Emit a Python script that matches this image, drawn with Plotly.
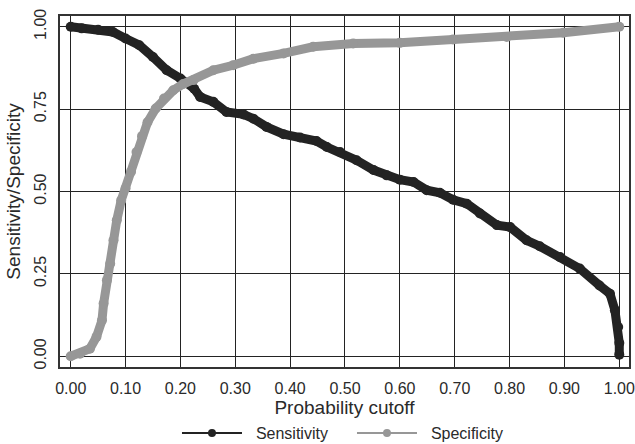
import plotly.graph_objects as go

# cutoff / sensitivity
sens_cutoff = [0.000, 0.020, 0.050, 0.077, 0.100, 0.125, 0.150, 0.175, 0.200, 0.225,
               0.236, 0.260, 0.284, 0.315, 0.333, 0.357, 0.388, 0.418, 0.448, 0.467,
               0.491, 0.521, 0.552, 0.576, 0.600, 0.625, 0.649, 0.673, 0.697, 0.722,
               0.746, 0.777, 0.801, 0.831, 0.855, 0.892, 0.928, 0.964, 0.983, 0.992,
               0.998, 1.000, 1.000]
sensitivity = [1.000, 0.995, 0.991, 0.984, 0.964, 0.944, 0.908, 0.868, 0.843, 0.812,
               0.787, 0.772, 0.741, 0.734, 0.721, 0.696, 0.674, 0.664, 0.653, 0.635,
               0.620, 0.595, 0.565, 0.549, 0.536, 0.529, 0.504, 0.496, 0.475, 0.463,
               0.433, 0.398, 0.392, 0.352, 0.334, 0.301, 0.266, 0.215, 0.190, 0.140,
               0.089, 0.040, 0.005]

# cutoff / specificity
spec_cutoff = [0.000, 0.017, 0.035, 0.047, 0.057, 0.060, 0.066, 0.072, 0.078, 0.084,
               0.092, 0.100, 0.110, 0.120, 0.130, 0.140, 0.155, 0.170, 0.187, 0.205,
               0.224, 0.260, 0.296, 0.333, 0.388, 0.442, 0.515, 0.600, 0.697, 0.795,
               0.898, 1.000]
specificity = [0.000, 0.008, 0.023, 0.059, 0.109, 0.160, 0.231, 0.281, 0.352, 0.413,
               0.473, 0.510, 0.560, 0.620, 0.668, 0.710, 0.752, 0.782, 0.807, 0.826,
               0.838, 0.868, 0.883, 0.903, 0.919, 0.939, 0.949, 0.951, 0.961, 0.969,
               0.982, 1.000]

x_ticks = [0.0, 0.1, 0.2, 0.3, 0.4, 0.5, 0.6, 0.7, 0.8, 0.9, 1.0]
x_labels = ['0.00', '0.10', '0.20', '0.30', '0.40', '0.50', '0.60', '0.70', '0.80', '0.90', '1.00']
y_ticks = [0.0, 0.25, 0.5, 0.75, 1.0]
y_labels = ['0.00', '0.25', '0.50', '0.75', '1.00']

black = '#232323'
grey = '#979797'
txt = '#2a2a2a'
font = 'Liberation Sans, Arial, sans-serif'
pad = '\u00a0\u00a0'  # little gap between legend symbol and its text

fig = go.Figure()

# the thick dotted bands
fig.add_trace(go.Scatter(x=sens_cutoff, y=sensitivity, mode='lines+markers',
                         line=dict(color=black, width=9),
                         marker=dict(color=black, size=10),
                         showlegend=False, hoverinfo='skip'))
fig.add_trace(go.Scatter(x=spec_cutoff, y=specificity, mode='lines+markers',
                         line=dict(color=grey, width=9),
                         marker=dict(color=grey, size=10),
                         showlegend=False, hoverinfo='skip'))

# legend entries (thin line + small dot)
fig.add_trace(go.Scatter(x=[None], y=[None], mode='lines+markers', name=pad + 'Sensitivity',
                         line=dict(color=black, width=2), marker=dict(color=black, size=8)))
fig.add_trace(go.Scatter(x=[None], y=[None], mode='lines+markers', name=pad + 'Specificity',
                         line=dict(color=grey, width=2), marker=dict(color=grey, size=8)))

fig.update_layout(
    width=635, height=444,
    autosize=False,
    margin=dict(l=60, r=6, t=16, b=77, autoexpand=False),
    plot_bgcolor='white',
    paper_bgcolor='white',
    font=dict(family=font, size=16, color=txt),
    legend=dict(orientation='h', x=0.2056, xanchor='left', y=-0.14, yanchor='top',
                itemwidth=60, entrywidth=100,
                font=dict(size=16, color=txt), bgcolor='rgba(0,0,0,0)'),
    xaxis=dict(
        range=[-0.0195, 1.0177],
        tickvals=x_ticks, ticktext=x_labels,
        showgrid=True, gridcolor=black, gridwidth=1,
        zeroline=False,
        showline=True, mirror=True, linecolor='#333333', linewidth=2,
        ticks='', ticklabelstandoff=6,
        title=dict(text='Probability cutoff', standoff=0),
        automargin=False,
    ),
    yaxis=dict(
        range=[-0.0325, 1.0325],
        tickvals=y_ticks, ticktext=y_labels, tickangle=-90,
        showgrid=True, gridcolor=black, gridwidth=1,
        zeroline=False,
        showline=True, mirror=True, linecolor='#333333', linewidth=2,
        ticks='', ticklabelstandoff=6,
        title=dict(text='Sensitivity/Specificity', standoff=6),
        automargin=False,
    ),
)

fig.write_html("out.html", config={'displayModeBar': False},
               post_script="document.body.style.margin='0';")
